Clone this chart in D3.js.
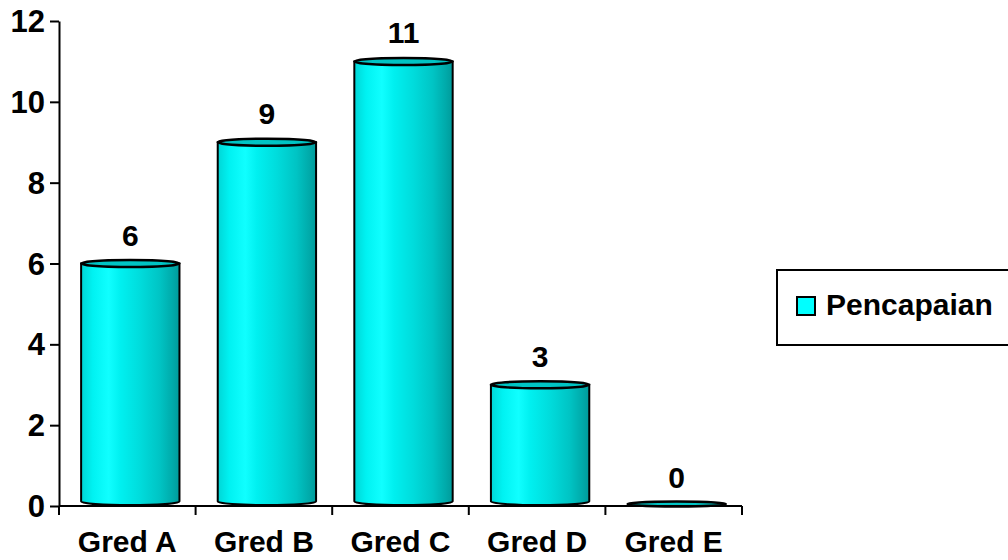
<!DOCTYPE html>
<html>
<head>
<meta charset="utf-8">
<script src="https://cdn.jsdelivr.net/npm/d3@7"></script>
<style>
  body { margin: 0; background: #fff; }
  svg { display: block; font-family: "Liberation Sans", Arial, sans-serif; font-weight: bold; }
</style>
</head>
<body>
<div id="chart"></div>
<script>
// data
const categories = ['Gred A', 'Gred B', 'Gred C', 'Gred D', 'Gred E'];
const values = [6, 9, 11, 3, 0];
const yTicks = [0, 2, 4, 6, 8, 10, 12];
const seriesName = 'Pencapaian';

const width = 1008, height = 560;
const plot = { left: 59, right: 742, top: 21, bottom: 506 };

const svg = d3.select('#chart').append('svg')
  .attr('width', width)
  .attr('height', height);

// horizontal shading of the cylinders
const grad = svg.append('defs').append('linearGradient')
  .attr('id', 'cyl')
  .attr('x1', '0%').attr('x2', '100%');
[[0, '#00d6d6'], [0.12, '#00f2f2'], [0.28, '#10ffff'], [0.4, '#00f0f0'],
 [0.6, '#00dcdc'], [0.8, '#00c4c4'], [0.93, '#00aaaa'], [1, '#009a9a']]
  .forEach(([o, c]) => grad.append('stop').attr('offset', o).attr('stop-color', c));

const x = d3.scaleBand()
  .domain(categories)
  .range([plot.left, plot.right])
  .paddingInner(0.28)
  .paddingOuter(0.14);

const y = d3.scaleLinear()
  .domain([0, 12])
  .range([plot.bottom, plot.top]);

const shift = 3;     // small 3-D offset of the bars
const ry = 3.5;      // ellipse radius of cylinder caps

const bars = svg.append('g').selectAll('g')
  .data(categories.map((c, i) => ({ c, v: values[i] })))
  .join('g');

bars.each(function (d) {
  const g = d3.select(this);
  const x0 = x(d.c) + shift, x1 = x0 + x.bandwidth();
  const rx = x.bandwidth() / 2;
  const yt = y(d.v), yb = y(0) - 1;
  if (d.v > 0) {
    g.append('path')
      .attr('d', `M${x0},${yt} L${x0},${yb - ry} A${rx},${ry} 0 0 0 ${x1},${yb - ry} L${x1},${yt} Z`)
      .attr('fill', 'url(#cyl)')
      .attr('stroke', '#000')
      .attr('stroke-width', 2);
  }
  g.append('ellipse')
    .attr('cx', x0 + rx)
    .attr('cy', d.v > 0 ? yt : yb - 1)
    .attr('rx', rx)
    .attr('ry', d.v > 0 ? ry : 2.5)
    .attr('fill', '#00c4c4')
    .attr('stroke', '#000')
    .attr('stroke-width', 2.5);
});

// value labels
svg.append('g').selectAll('text')
  .data(values)
  .join('text')
  .attr('x', (d, i) => x(categories[i]) + x.bandwidth() / 2 + shift)
  .attr('y', d => y(d) - 18)
  .attr('text-anchor', 'middle')
  .attr('font-size', 30)
  .text(d => d);

// y axis
const yAxis = svg.append('g')
  .attr('transform', `translate(${plot.left},0)`)
  .call(d3.axisLeft(y).tickValues(yTicks).tickSize(9).tickPadding(5).tickSizeOuter(0));
yAxis.select('.domain').attr('stroke-width', 2);
yAxis.selectAll('.tick line').attr('stroke-width', 2);
yAxis.selectAll('.tick text')
  .attr('font-size', 31).attr('font-family', null).attr('font-weight', 'bold')
  .attr('dy', '0.34em').attr('fill', '#000');

// x axis, ticks between categories
const xAxis = svg.append('g')
  .attr('transform', `translate(0,${plot.bottom})`);
xAxis.append('line')
  .attr('x1', plot.left).attr('x2', plot.right)
  .attr('stroke', '#000').attr('stroke-width', 2);
const step = x.step();
xAxis.selectAll('line.tk')
  .data(d3.range(categories.length + 1))
  .join('line')
  .attr('class', 'tk')
  .attr('x1', i => plot.left + i * step).attr('x2', i => plot.left + i * step)
  .attr('y1', 0).attr('y2', 9)
  .attr('stroke', '#000').attr('stroke-width', 2);
xAxis.selectAll('text')
  .data(categories)
  .join('text')
  .attr('x', d => x(d) + x.bandwidth() / 2)
  .attr('y', 46)
  .attr('text-anchor', 'middle')
  .attr('font-size', 30)
  .text(d => d);

// legend
const leg = svg.append('g');
leg.append('rect')
  .attr('x', 777).attr('y', 270)
  .attr('width', 300).attr('height', 75)
  .attr('fill', '#fff').attr('stroke', '#000').attr('stroke-width', 2);
leg.append('rect')
  .attr('x', 797).attr('y', 297)
  .attr('width', 18).attr('height', 18)
  .attr('fill', '#00ffff').attr('stroke', '#000').attr('stroke-width', 2);
leg.append('text')
  .attr('x', 826).attr('y', 315)
  .attr('font-size', 30)
  .text(seriesName);
</script>
</body>
</html>
